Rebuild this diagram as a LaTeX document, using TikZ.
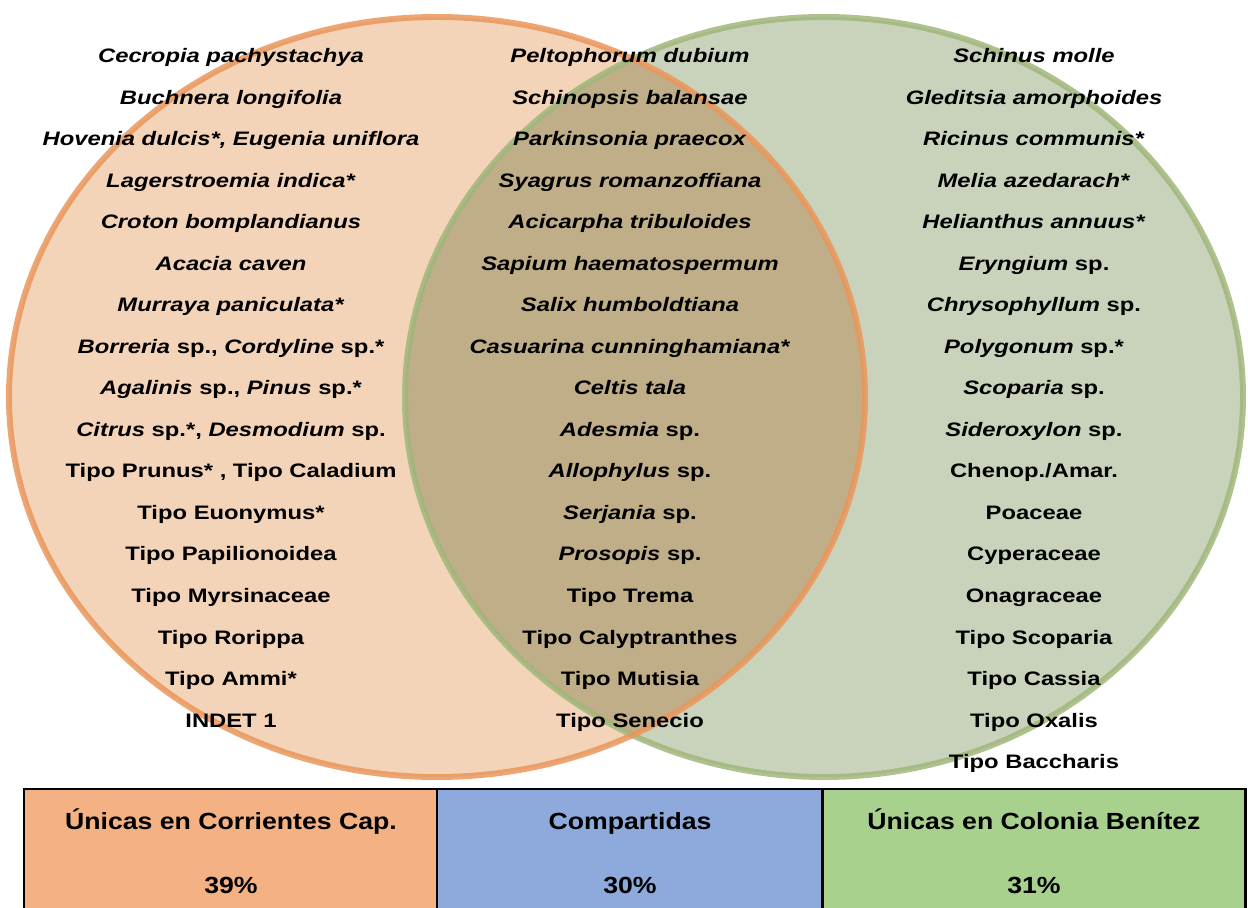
\documentclass[tikz,border=0pt]{standalone}
\usepackage{fontspec}
\setmainfont{Liberation Sans}
\newfontfamily\vennfont[FakeStretch=1.22]{Liberation Sans}
\newfontfamily\tabfont[FakeStretch=1.14]{Liberation Sans}
\definecolor{corrfill}{RGB}{244,212,184}
\definecolor{colofill}{RGB}{201,211,188}
\definecolor{bothfill}{RGB}{191,174,136}
\definecolor{corrline}{RGB}{234,150,90}
\definecolor{cololine}{RGB}{160,182,122}
\definecolor{corrcell}{RGB}{244,177,131}
\definecolor{bothcell}{RGB}{142,169,219}
\definecolor{colocell}{RGB}{169,209,142}
\tikzset{
  sp/.style={anchor=base,inner sep=0pt,font=\vennfont\fontsize{11.1}{13}\selectfont\bfseries},
  pct/.style={anchor=base,inner sep=0pt,font=\tabfont\fontsize{13.3}{15}\selectfont\bfseries},
  cell/.style={draw=black,line width=1.7pt}
}
\begin{document}
\begin{tikzpicture}[x=0.02cm,y=-0.02cm]
  \useasboundingbox (0,0) rectangle (1248,908);
  % sets
  \fill[corrfill] (437,397) ellipse [x radius=428,y radius=380];
  \fill[colofill] (824,397) ellipse [x radius=419,y radius=380];
  \begin{scope}
    \clip (437,397) ellipse [x radius=428,y radius=380];
    \fill[bothfill] (824,397) ellipse [x radius=419,y radius=380];
  \end{scope}
  \draw[cololine,line width=3.4pt,opacity=.85] (824,397) ellipse [x radius=419,y radius=380];
  \draw[corrline,line width=3.4pt,opacity=.85] (437,397) ellipse [x radius=428,y radius=380];
  % Corrientes
  \foreach \txt [count=\i] in {\textit{Cecropia pachystachya},\textit{Buchnera longifolia},
      {\textit{Hovenia dulcis*, Eugenia uniflora}},\textit{Lagerstroemia indica*},
      \textit{Croton bomplandianus},\textit{Acacia caven},\textit{Murraya paniculata*},
      {\textit{Borreria} sp., \textit{Cordyline} sp.*},{\textit{Agalinis} sp., \textit{Pinus} sp.*},
      {\textit{Citrus} sp.*, \textit{Desmodium} sp.},{Tipo Prunus* , Tipo Caladium},
      Tipo Euonymus*,Tipo Papilionoidea,Tipo Myrsinaceae,Tipo Rorippa,Tipo Ammi*,INDET 1}
    \node[sp] (corr\i) at (231,{63+41.5*(\i-1)}) {\txt};
  % compartidas
  \foreach \txt [count=\i] in {\textit{Peltophorum dubium},\textit{Schinopsis balansae},
      \textit{Parkinsonia praecox},\textit{Syagrus romanzoffiana},\textit{Acicarpha tribuloides},
      \textit{Sapium haematospermum},\textit{Salix humboldtiana},\textit{Casuarina cunninghamiana*},
      \textit{Celtis tala},{\textit{Adesmia} sp.},{\textit{Allophylus} sp.},{\textit{Serjania} sp.},
      {\textit{Prosopis} sp.},Tipo Trema,Tipo Calyptranthes,Tipo Mutisia,Tipo Senecio}
    \node[sp] (both\i) at (630,{63+41.5*(\i-1)}) {\txt};
  % Colonia Benitez
  \foreach \txt [count=\i] in {\textit{Schinus molle},\textit{Gleditsia amorphoides},
      \textit{Ricinus communis*},\textit{Melia azedarach*},\textit{Helianthus annuus*},
      {\textit{Eryngium} sp.},{\textit{Chrysophyllum} sp.},{\textit{Polygonum} sp.*},
      {\textit{Scoparia} sp.},{\textit{Sideroxylon} sp.},Chenop./Amar.,Poaceae,Cyperaceae,
      Onagraceae,Tipo Scoparia,Tipo Cassia,Tipo Oxalis,Tipo Baccharis}
    \node[sp] (colo\i) at (1034,{63+41.5*(\i-1)}) {\txt};
  % table
  \draw[cell,fill=corrcell] (24,789) rectangle (437,930);
  \draw[cell,fill=bothcell] (437,789) rectangle (822,930);
  \draw[cell,fill=colocell] (822,789) rectangle (1245,930);
  \node[pct] (corrtit) at (231,829) {Únicas en Corrientes Cap.};
  \node[pct] (bothtit) at (630,829) {Compartidas};
  \node[pct] (colotit) at (1034,829) {Únicas en Colonia Benítez};
  \node[pct] (corrpct) at (231,893) {39\%};
  \node[pct] (bothpct) at (630,893) {30\%};
  \node[pct] (colopct) at (1034,893) {31\%};
\end{tikzpicture}
\end{document}
